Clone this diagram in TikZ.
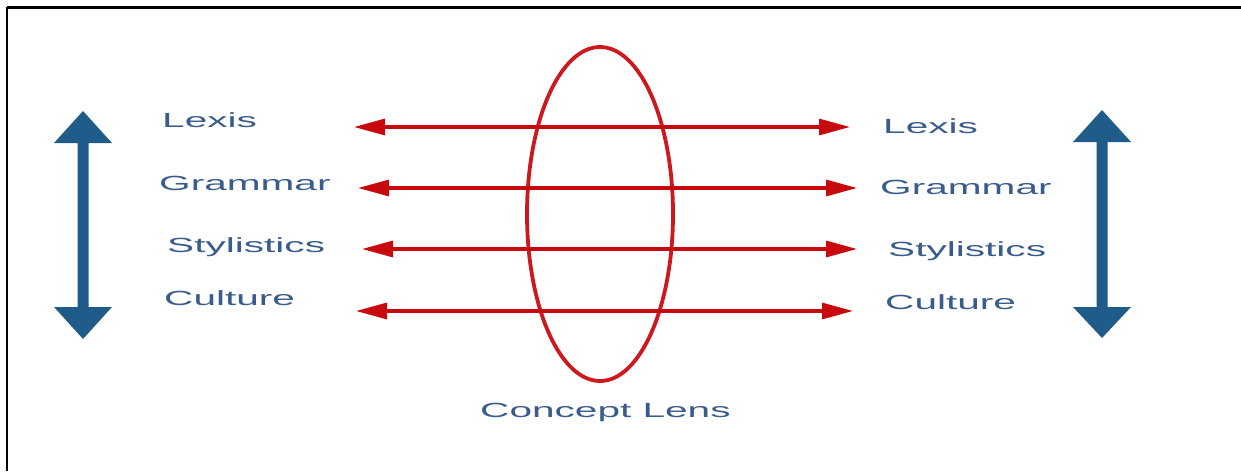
\documentclass[tikz,border=0pt]{standalone}
\usepackage{graphicx}
\usepackage{fontspec}
\setmainfont{Liberation Sans}
\usetikzlibrary{arrows.meta,shapes.geometric}
\definecolor{lbl}{RGB}{58,92,140}
\definecolor{bluearr}{RGB}{31,92,138}
\definecolor{redarr}{RGB}{200,10,15}
\definecolor{lensred}{RGB}{205,25,30}
\tikzset{
  lbl/.style={anchor=base west, inner sep=0pt, text=lbl, font=\fontsize{20.5}{24}\selectfont},
  redline/.style={draw=redarr, line width=3.2pt, {Triangle[length=31pt,width=16pt]}-{Triangle[length=31pt,width=16pt]}},
  bluearrow/.style={fill=bluearr},
}
\newcommand{\wide}[1]{\scalebox{1.98}[1]{#1}}
\begin{document}
\begin{tikzpicture}[x=1pt,y=-1pt]
\useasboundingbox (0,0) rectangle (1241,471);
% frame
\draw[line width=3pt] (7,7) -- (1241,7);
\draw[line width=1.6pt] (7,7) -- (7,471);
% blue double arrows
\fill[bluearrow] (83,111) -- (112,143) -- (88.5,143) -- (88.5,307) -- (112,307) -- (83,339) -- (54,307) -- (77.5,307) -- (77.5,143) -- (54,143) -- cycle;
\fill[bluearrow] (1102,110) -- (1131,142) -- (1107.5,142) -- (1107.5,307) -- (1131,307) -- (1102,338) -- (1073,307) -- (1096.5,307) -- (1096.5,142) -- (1073,142) -- cycle;
% lens
\node[draw=lensred, line width=3.8pt, ellipse, minimum width=146pt, minimum height=334pt, inner sep=0pt] (lens) at (600,214) {};
% labels
\node[lbl] (l1) at (162,127) {\wide{Lexis}};
\node[lbl] (l2) at (159,190) {\wide{Grammar}};
\node[lbl] (l3) at (167,252) {\wide{Stylistics}};
\node[lbl] (l4) at (164,305) {\wide{Culture}};
\node[lbl] (r1) at (883,133) {\wide{Lexis}};
\node[lbl] (r2) at (880,194) {\wide{Grammar}};
\node[lbl] (r3) at (888,256) {\wide{Stylistics}};
\node[lbl] (r4) at (885,309) {\wide{Culture}};
\node[lbl] (cl) at (480,417) {\wide{Concept Lens}};
% red arrow ends
\coordinate (a1) at (354,127); \coordinate (b1) at (850,127);
\coordinate (a2) at (358,188); \coordinate (b2) at (857,188);
\coordinate (a3) at (362,249); \coordinate (b3) at (857,249);
\coordinate (a4) at (356,311); \coordinate (b4) at (853,311);
\draw[redline] (a1) -- (b1);
\draw[redline] (a2) -- (b2);
\draw[redline] (a3) -- (b3);
\draw[redline] (a4) -- (b4);
\end{tikzpicture}
\end{document}
